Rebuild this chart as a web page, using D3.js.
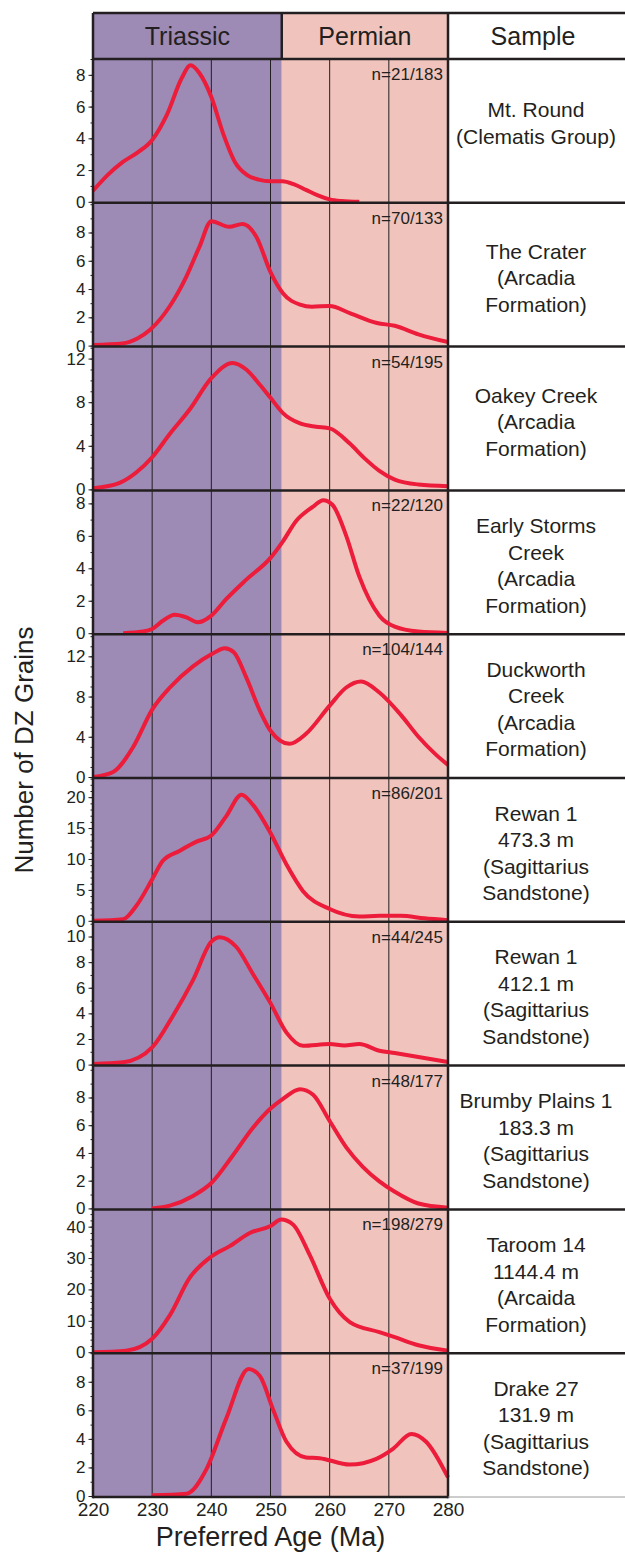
<!DOCTYPE html>
<html>
<head>
<meta charset="utf-8">
<script src="https://d3js.org/d3.v7.min.js"></script>
<style>
  body { margin: 0; background: #fff; }
  svg text { font-family: "Liberation Sans", Arial, Helvetica, sans-serif; fill: #231f20; }
</style>
</head>
<body>
<script>
// ---- data (age in Ma, number of grains) ----
var periods = ["Triassic", "Permian"];
var boundaryAge = 251.9;
var xTicks = [220, 230, 240, 250, 260, 270, 280];
var gridAges = [230, 240, 250, 260, 270];

var sampleNames = [
  ["Mt. Round", "(Clematis Group)"],
  ["The Crater", "(Arcadia", "Formation)"],
  ["Oakey Creek", "(Arcadia", "Formation)"],
  ["Early Storms", "Creek", "(Arcadia", "Formation)"],
  ["Duckworth", "Creek", "(Arcadia", "Formation)"],
  ["Rewan 1", "473.3 m", "(Sagittarius", "Sandstone)"],
  ["Rewan 1", "412.1 m", "(Sagittarius", "Sandstone)"],
  ["Brumby Plains 1", "183.3 m", "(Sagittarius", "Sandstone)"],
  ["Taroom 14", "1144.4 m", "(Arcaida", "Formation)"],
  ["Drake 27", "131.9 m", "(Sagittarius", "Sandstone)"]
];
var nLabels = ["n=21/183", "n=70/133", "n=54/195", "n=22/120", "n=104/144",
               "n=86/201", "n=44/245", "n=48/177", "n=198/279", "n=37/199"];

// y axis extent and ticks of each panel
var yMax = [9.0, 10.1, 13.1, 8.8, 14.2, 23.1, 11.15, 10.3, 45.5, 10.0];
var topTick = [8, 8, 12, 8, 12, 20, 10, 8, 40, 8];
var majorStep = [2, 2, 4, 2, 4, 5, 2, 2, 10, 2];
var minorStep = [1, 1, 1, 1, 1, 1, 1, 1, 2, 1];

var mtRound = [[220,0.7],[222.5,1.7],[225,2.5],[227.5,3.1],[230,3.9],[232.5,5.5],[235,7.8],[236.5,8.6],[238,8.1],[240,6.6],[242,4.3],[244,2.5],[246,1.7],[248,1.4],[250,1.3],[252,1.3],[254,1.1],[256,0.75],[258,0.4],[260,0.15],[262,0.05],[265,0]];
var theCrater = [[220,0.05],[225,0.15],[227.5,0.5],[229.6,1.1],[233,2.8],[235.8,4.9],[238,7.0],[240,8.8],[243,8.4],[245.3,8.6],[247.6,7.7],[250,5.2],[252.1,3.7],[255,2.9],[257,2.75],[260,2.8],[263.4,2.3],[268,1.6],[271,1.4],[275,0.8],[280,0.25]];
var oakeyCreek = [[220,0.1],[224.5,0.6],[227.3,1.55],[230,2.95],[233,5.1],[236.3,7.3],[240,10.2],[243.6,11.6],[245.9,11.0],[248.2,9.6],[250,8.4],[252.1,7.0],[255,6.05],[257.7,5.75],[260,5.6],[263.4,4.2],[266,2.8],[268.4,1.7],[271,0.9],[275,0.45],[280,0.3]];
var earlyStorms = [[225.1,0],[228.4,0.1],[230,0.26],[231.8,0.77],[233.8,1.14],[235.8,0.98],[237.7,0.67],[240,1.08],[242.5,2.1],[245.9,3.3],[250,4.64],[252.1,5.66],[254.3,6.9],[257.2,7.8],[258.9,8.2],[260.5,7.9],[262.8,6.0],[265,3.5],[268.4,1.08],[271,0.4],[275,0.1],[280,0.02]];
var duckworth = [[220,0],[223.4,0.5],[226.8,3.0],[230,6.7],[233,8.9],[236.9,11.0],[240,12.2],[242.3,12.8],[243.8,12.4],[245.9,9.9],[248.2,6.6],[250,4.6],[253.2,3.3],[256,4.3],[260,7.1],[262.8,8.9],[265.3,9.5],[268.4,8.4],[272,6.2],[275,4.0],[278,2.2],[280,1.2]];
var rewan473 = [[220,0],[225.1,0.27],[227.3,2.4],[230,6.7],[231.8,9.7],[234.6,11.3],[237.5,12.8],[240,13.8],[242.5,16.9],[245.1,20.4],[247,18.8],[250,14.2],[252.7,9.1],[255.5,4.8],[260,1.9],[265,0.7],[268.4,0.8],[272,0.8],[276,0.4],[280,0.1]];
var rewan412 = [[220,0.05],[225.1,0.18],[230,1.34],[233.5,3.8],[236.9,6.6],[240,9.6],[241.4,9.95],[244.2,9.2],[247,7.1],[250,4.8],[252.7,2.5],[255.5,1.47],[260,1.6],[262.5,1.5],[265,1.6],[268.4,1.08],[271,0.9],[275,0.6],[280,0.2]];
var brumby = [[230,0],[233,0.2],[236.9,0.9],[240,1.83],[243.6,3.8],[247,5.8],[250,7.2],[252.1,7.9],[255,8.6],[257.2,8.2],[260,6.3],[262.8,4.4],[265.6,3.0],[268.4,1.95],[271,1.2],[275,0.35],[280,0.05]];
var taroom = [[220,0],[225.6,0.5],[230,4.3],[233,11.8],[236.3,23.6],[240,30.5],[243.1,33.8],[246.5,38.0],[250,40.2],[251.8,42.3],[253.8,40.7],[256.6,31.1],[260,17.1],[263.4,9.6],[268.4,6.4],[271,4.8],[275,2.2],[280,0.5]];
var drake = [[230,0.05],[235.8,0.16],[239.2,1.9],[242.5,5.4],[246.3,8.9],[248.2,8.4],[250.4,6.1],[252.7,3.8],[256,2.7],[258.3,2.65],[263.4,2.2],[267.9,2.6],[270.7,3.3],[273.8,4.35],[276.3,3.8],[280,1.3]];

var curves = [mtRound, theCrater, oakeyCreek, earlyStorms, duckworth, rewan473, rewan412, brumby, taroom, drake];

// ---- layout ----
var W = 625, H = 1552;
var left = 93, right = 448, headTop = 13, headBottom = 59, plotBottom = 1497;
var ink = "#231f20", purple = "#9d8ab5", pink = "#f0c4bd", red = "#ec1c3a";

var svg = d3.select("body").append("svg").attr("width", W).attr("height", H);

var x = d3.scaleLinear().domain([220, 280]).range([left, right]);
var row = d3.scaleLinear().domain([0, curves.length]).range([headBottom, plotBottom]);

// period backgrounds (header + plot)
svg.append("rect").attr("x", x(220)).attr("y", headTop)
  .attr("width", x(boundaryAge) - x(220)).attr("height", plotBottom - headTop).attr("fill", purple);
svg.append("rect").attr("x", x(boundaryAge)).attr("y", headTop)
  .attr("width", x(280) - x(boundaryAge)).attr("height", plotBottom - headTop).attr("fill", pink);

// vertical grid lines
svg.selectAll("line.grid").data(gridAges).enter().append("line")
  .attr("class", "grid")
  .attr("x1", d => x(d)).attr("x2", d => x(d))
  .attr("y1", headBottom).attr("y2", plotBottom)
  .attr("stroke", ink).attr("stroke-width", 1);

// header labels
svg.append("text").attr("x", (x(220) + x(boundaryAge)) / 2).attr("y", 45)
  .attr("text-anchor", "middle").style("font-size", "25px").text(periods[0]);
svg.append("text").attr("x", (x(boundaryAge) + x(280)) / 2).attr("y", 45)
  .attr("text-anchor", "middle").style("font-size", "25px").text(periods[1]);
svg.append("text").attr("x", 533).attr("y", 45)
  .attr("text-anchor", "middle").style("font-size", "25px").text("Sample");

var line = d3.line().curve(d3.curveMonotoneX).x(d => x(d[0]));

curves.forEach(function(data, i) {
  var top = row(i), bottom = row(i + 1);
  var y = d3.scaleLinear().domain([0, yMax[i]]).range([bottom - 1, top]);
  var g = svg.append("g");

  var minor = d3.range(0, yMax[i] + 1e-6, minorStep[i]);
  var major = d3.range(0, topTick[i] + 1e-6, majorStep[i]);

  var ga = g.append("g").attr("transform", "translate(" + left + ",0)")
    .call(d3.axisLeft(y).tickValues(minor).tickSize(2.5).tickFormat(""));
  ga.select(".domain").remove();
  ga.selectAll("line").attr("stroke", ink);

  var gb = g.append("g").attr("transform", "translate(" + left + ",0)")
    .call(d3.axisLeft(y).tickValues(major).tickSize(4.5).tickPadding(3));
  gb.select(".domain").remove();
  gb.selectAll("line").attr("stroke", ink);
  gb.selectAll("text").style("font-size", "17px").attr("fill", ink);

  g.append("path").datum(data)
    .attr("d", line.y(d => y(d[1])))
    .attr("fill", "none").attr("stroke", red)
    .attr("stroke-width", 4).attr("stroke-linecap", "butt");

  g.append("text").attr("x", 443).attr("y", top + 21)
    .attr("text-anchor", "end").style("font-size", "17px").text(nLabels[i]);

  var lines = sampleNames[i];
  var mid = (top + bottom) / 2 + (i === 0 ? -8 : 3);
  var lh = 26.5;
  g.selectAll("text.sample").data(lines).enter().append("text")
    .attr("class", "sample")
    .attr("x", 536).attr("text-anchor", "middle")
    .attr("y", (d, k) => mid + (k - (lines.length - 1) / 2) * lh + 7.5)
    .style("font-size", "21px").text(d => d);
});

// frame lines
var frame = svg.append("g").attr("stroke", ink).attr("stroke-width", 2.5);
frame.append("line").attr("x1", left).attr("x2", W).attr("y1", headTop).attr("y2", headTop);
d3.range(0, curves.length).forEach(function(i) {
  frame.append("line").attr("x1", left).attr("x2", W).attr("y1", row(i)).attr("y2", row(i));
});
frame.append("line").attr("x1", left).attr("x2", right).attr("y1", plotBottom).attr("y2", plotBottom);
frame.append("line").attr("x1", left).attr("x2", left).attr("y1", headTop).attr("y2", plotBottom + 1.25);
frame.append("line").attr("x1", right).attr("x2", right).attr("y1", headTop).attr("y2", plotBottom + 1.25);
frame.append("line").attr("x1", x(boundaryAge)).attr("x2", x(boundaryAge)).attr("y1", headTop).attr("y2", headBottom);
svg.append("line").attr("x1", right).attr("x2", W).attr("y1", plotBottom).attr("y2", plotBottom)
  .attr("stroke", "#9a9a9a").attr("stroke-width", 1);

// x axis
var gx = svg.append("g").attr("transform", "translate(0," + plotBottom + ")")
  .call(d3.axisBottom(x).tickValues(xTicks).tickSize(0).tickPadding(6));
gx.select(".domain").remove();
gx.selectAll("text").style("font-size", "19px").attr("fill", ink);

svg.append("text").attr("x", (left + right) / 2).attr("y", 1546)
  .attr("text-anchor", "middle").style("font-size", "27px").text("Preferred Age (Ma)");

svg.append("text")
  .attr("transform", "translate(33," + 750 + ") rotate(-90)")
  .attr("text-anchor", "middle").style("font-size", "26px").text("Number of DZ Grains");
</script>
</body>
</html>
